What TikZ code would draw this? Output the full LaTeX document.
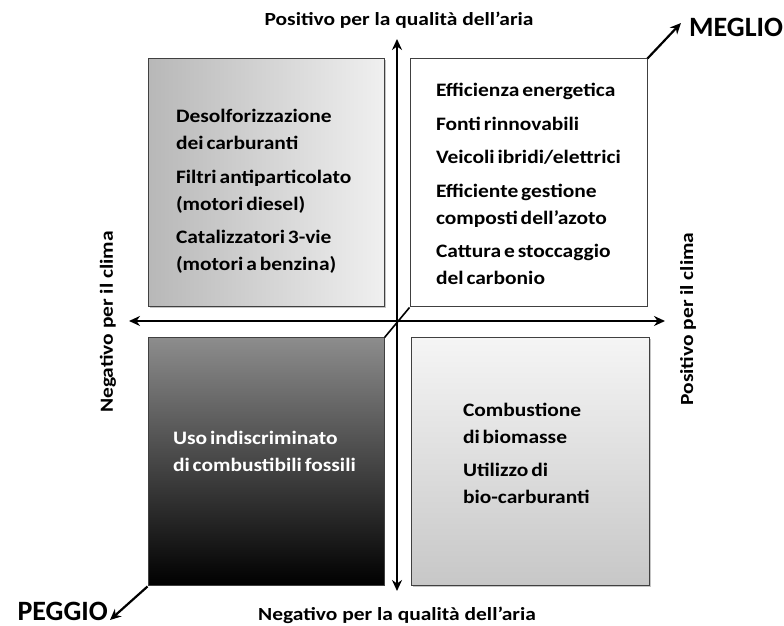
\documentclass[tikz,border=0pt]{standalone}
\usepackage{fontspec}
\setmainfont{Carlito}
\newfontfamily\widefont{Carlito}[FakeStretch=1.13, WordSpace=0.6]
\newfontfamily\labelfont{Carlito}[FakeStretch=1.16]
\usetikzlibrary{arrows.meta, positioning, shadows}

\begin{document}
\begin{tikzpicture}[
    x=1pt, y=1pt,
    node distance=25pt,
    quad/.style={rectangle, draw=black!75, line width=1pt, minimum height=248pt, text height=0pt, align=flush left, font=\widefont\bfseries\fontsize{19}{27}\selectfont},
    shade/.style={drop shadow={shadow xshift=1.5pt, shadow yshift=-1.5pt, fill=black!45}},
    axis/.style={{Stealth[length=11pt,width=10pt]}-{Stealth[length=11pt,width=10pt]}, line width=2.6pt},
    arrow/.style={-{Stealth[length=11pt,width=10pt]}, line width=2.2pt},
    axislabel/.style={inner sep=0pt, font=\labelfont\bfseries\fontsize{18.5}{20}\selectfont},
    corner/.style={inner sep=0pt, font=\bfseries\fontsize{28}{30}\selectfont}
]
\useasboundingbox (0,0) rectangle (784,626);

% Nodes
\node[quad, shade, left color=black!28, right color=black!6, inner xsep=28pt, text width=180pt, text depth=120pt] (topleft) at (266,443)
    {Desolforizzazione\\dei carburanti\\[6.5pt]Filtri antiparticolato\\(motori diesel)\\[6.5pt]Catalizzatori 3-vie\\(motori a benzina)};
\node[quad, fill=white, inner xsep=26pt, text width=185pt, text depth=172pt, right=25pt of topleft] (topright)
    {Efficienza energetica\\[6.5pt]Fonti rinnovabili\\[6.5pt]Veicoli ibridi/elettrici\\[6.5pt]Efficiente gestione\\composti dell’azoto\\[6.5pt]Cattura e stoccaggio\\del carbonio};
\node[quad, top color=black!45, bottom color=black, text=white, inner xsep=25pt, text width=186pt, text depth=34pt, below=30pt of topleft] (botleft)
    {Uso indiscriminato\\di combustibili fossili};
\node[quad, shade, top color=black!4, bottom color=black!22, inner xsep=52pt, text width=134pt, text depth=91pt, right=26pt of botleft] (botright)
    {Combustione\\di biomasse\\[6.5pt]Utilizzo di\\bio-carburanti};

\node[axislabel] (airpos) at (399,606) {Positivo per la qualità dell’aria};
\node[axislabel] (airneg) at (397,11) {Negativo per la qualità dell’aria};
\node[axislabel, rotate=90] (climaneg) at (108,304) {Negativo per il clima};
\node[axislabel, rotate=90] (climapos) at (688,307) {Positivo per il clima};
\node[corner, anchor=west] (meglio) at (689,599) {MEGLIO};
\node[corner, anchor=east] (peggio) at (108,15) {PEGGIO};

\coordinate (axtop) at (397,587);
\coordinate (axbot) at (397,35);
\coordinate (axleft) at (129,305);
\coordinate (axright) at (665,305);
\coordinate (megliotip) at (681,603);
\coordinate (peggiotip) at (110,6);

% Arrows
\draw[axis] (axbot) -- (axtop);
\draw[axis] (axleft) -- (axright);
\draw[line width=1.6pt] (botleft.north east) -- (topright.south west);
\draw[arrow] (topright.north east) -- (megliotip);
\draw[arrow] (botleft.south west) -- (peggiotip);

\end{tikzpicture}
\end{document}
